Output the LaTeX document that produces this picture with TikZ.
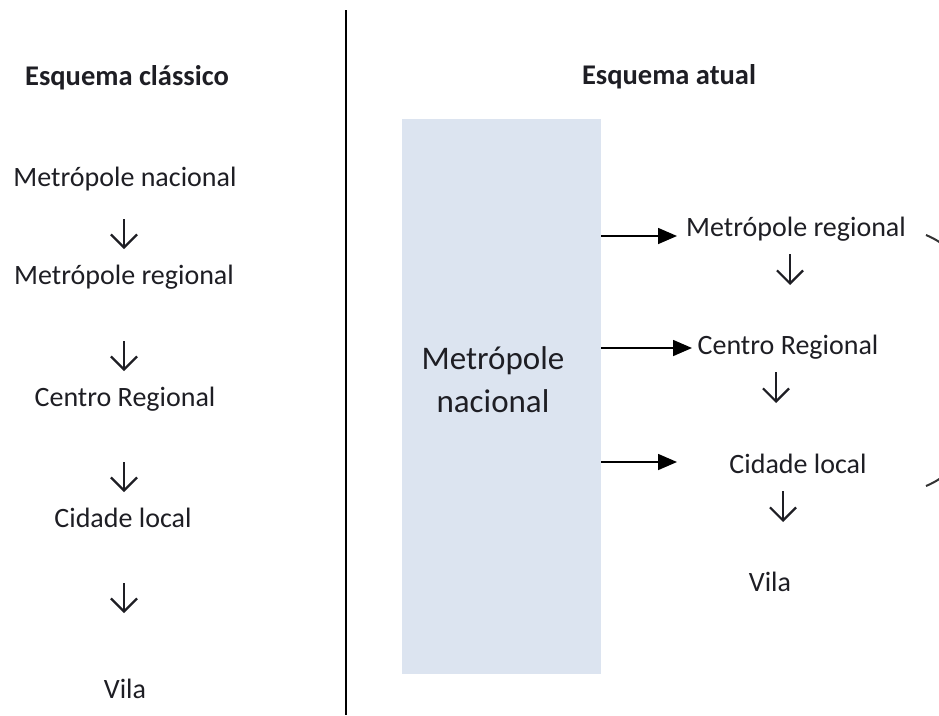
\documentclass[tikz,border=0pt]{standalone}
\usepackage{fontspec}
\setmainfont{Carlito}
\usetikzlibrary{arrows.meta}
\definecolor{boxfill}{HTML}{DCE4F0}
\definecolor{txt}{HTML}{1E1E24}
\tikzset{
  lbl/.style={inner sep=0pt, text=txt, font=\fontsize{28}{34}\selectfont},
  ttl/.style={inner sep=0pt, text=txt, font=\fontsize{28.5}{34}\selectfont\bfseries},
  down/.style={draw=txt, line width=2.2pt, -{Straight Barb[length=13pt, width=26pt, line width=2.2pt]}},
  feed/.style={draw=black, line width=1.6pt, -{Triangle[length=19pt, width=16pt]}},
  loop/.style={draw=black!80, line width=2pt}
}
\begin{document}
\begin{tikzpicture}[x=1pt, y=-1pt]
\useasboundingbox (0,0) rectangle (939,715);
\fill[white] (0,0) rectangle (939,715);
% divider
\draw[line width=1.6pt] (346,10) -- (346,715);
% left column
\node[ttl] (lt) at (127,78) {Esquema clássico};
\node[lbl] (l1) at (125,179) {Metrópole nacional};
\node[lbl] (l2) at (124,277) {Metrópole regional};
\node[lbl] (l3) at (125,399) {Centro Regional};
\node[lbl] (l4) at (123,518) {Cidade local};
\node[lbl] (l5) at (125,689) {Vila};
\coordinate (a1s) at (124,219); \coordinate (a1e) at (124,249);
\coordinate (a2s) at (124,341); \coordinate (a2e) at (124,371);
\coordinate (a3s) at (124,462); \coordinate (a3e) at (124,492);
\coordinate (a4s) at (124,583); \coordinate (a4e) at (124,613);
\draw[down] (a1s) -- (a1e);
\draw[down] (a2s) -- (a2e);
\draw[down] (a3s) -- (a3e);
\draw[down] (a4s) -- (a4e);
% right column
\node[ttl] (rt) at (669,77) {Esquema atual};
\node[fill=boxfill, minimum width=199pt, minimum height=555pt, inner sep=0pt, anchor=north west] (box) at (402,119) {};
\node[inner sep=0pt, text=txt, font=\fontsize{33}{43}\selectfont, align=center] (mn) at (493,380) {Metrópole\\nacional};
\node[lbl] (r1) at (796,229) {Metrópole regional};
\node[lbl] (r2) at (788,347) {Centro Regional};
\node[lbl] (r3) at (798,464) {Cidade local};
\node[lbl] (r4) at (770,582) {Vila};
\draw[feed] (box.east |- 0,236) -- (677,236);
\draw[feed] (box.east |- 0,348) -- (692,348);
\draw[feed] (box.east |- 0,462) -- (677,462);
\coordinate (b1s) at (790,254); \coordinate (b1e) at (790,285);
\coordinate (b2s) at (776,372); \coordinate (b2e) at (776,403);
\coordinate (b3s) at (783,491); \coordinate (b3e) at (783,522);
\draw[down] (b1s) -- (b1e);
\draw[down] (b2s) -- (b2e);
\draw[down] (b3s) -- (b3e);
% curved connector at the right edge (mostly outside the picture)
\coordinate (c1) at (926,235);
\coordinate (c2) at (926,486);
\begin{scope}
\clip (0,0) rectangle (939,715);
\draw[loop] (c1) .. controls (1012,270) and (1012,451) .. (c2);
\end{scope}
\end{tikzpicture}
\end{document}
